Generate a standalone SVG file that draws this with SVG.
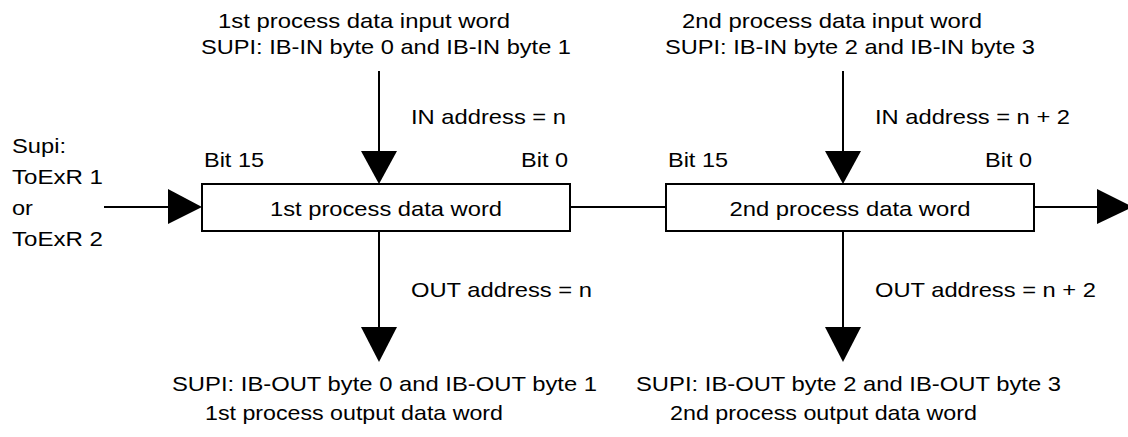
<svg xmlns="http://www.w3.org/2000/svg" width="1128" height="437" viewBox="0 0 1128 437">
<style>
text{font-family:"Liberation Sans",Arial,sans-serif;font-size:21px;fill:#000}
.ln{stroke:#000;stroke-width:2;fill:none}
.hd{fill:#000;stroke:none}
.box{fill:#fff;stroke:#000;stroke-width:2}
</style>
<rect width="1128" height="437" fill="#fff"/>
<g id="connectors">
<line class="ln" x1="104" y1="207" x2="170" y2="207"/>
<polygon class="hd" points="168,189 202,207 168,224"/>
<line class="ln" x1="570" y1="207" x2="666" y2="207"/>
<line class="ln" x1="1034" y1="207" x2="1100" y2="207"/>
<polygon class="hd" points="1097,189 1133,207 1097,224"/>
<line class="ln" x1="379" y1="71" x2="379" y2="153"/>
<polygon class="hd" points="361,151 397,151 379,184"/>
<line class="ln" x1="379" y1="231" x2="379" y2="329"/>
<polygon class="hd" points="361,327 397,327 379,362"/>
<line class="ln" x1="843" y1="71" x2="843" y2="153"/>
<polygon class="hd" points="825,151 861,151 843,184"/>
<line class="ln" x1="843" y1="231" x2="843" y2="329"/>
<polygon class="hd" points="825,327 861,327 843,362"/>
</g>
<g id="source">
<text x="12" y="153" textLength="54" lengthAdjust="spacingAndGlyphs">Supi:</text>
<text x="12" y="184" textLength="91" lengthAdjust="spacingAndGlyphs">ToExR 1</text>
<text x="12" y="215" textLength="21" lengthAdjust="spacingAndGlyphs">or</text>
<text x="12" y="246" textLength="91" lengthAdjust="spacingAndGlyphs">ToExR 2</text>
</g>
<g id="word1">
<rect class="box" x="202" y="184" width="368" height="47"/>
<text x="386" y="216" text-anchor="middle" textLength="232" lengthAdjust="spacingAndGlyphs">1st process data word</text>
<text x="204" y="167" textLength="60" lengthAdjust="spacingAndGlyphs">Bit 15</text>
<text x="521" y="167" textLength="47" lengthAdjust="spacingAndGlyphs">Bit 0</text>
</g>
<g id="word2">
<rect class="box" x="666" y="184" width="368" height="47"/>
<text x="850" y="216" text-anchor="middle" textLength="241" lengthAdjust="spacingAndGlyphs">2nd process data word</text>
<text x="668" y="167" textLength="60" lengthAdjust="spacingAndGlyphs">Bit 15</text>
<text x="985" y="167" textLength="47" lengthAdjust="spacingAndGlyphs">Bit 0</text>
</g>
<g id="input1">
<text x="218" y="28" textLength="292" lengthAdjust="spacingAndGlyphs">1st process data input word</text>
<text x="201" y="54" textLength="370" lengthAdjust="spacingAndGlyphs">SUPI: IB-IN byte 0 and IB-IN byte 1</text>
<text x="411" y="124" textLength="155" lengthAdjust="spacingAndGlyphs">IN address = n</text>
</g>
<g id="input2">
<text x="682" y="28" textLength="300" lengthAdjust="spacingAndGlyphs">2nd process data input word</text>
<text x="665" y="54" textLength="370" lengthAdjust="spacingAndGlyphs">SUPI: IB-IN byte 2 and IB-IN byte 3</text>
<text x="875" y="124" textLength="195" lengthAdjust="spacingAndGlyphs">IN address = n + 2</text>
</g>
<g id="output1">
<text x="411" y="297" textLength="181" lengthAdjust="spacingAndGlyphs">OUT address = n</text>
<text x="172" y="391" textLength="425" lengthAdjust="spacingAndGlyphs">SUPI: IB-OUT byte 0 and IB-OUT byte 1</text>
<text x="205" y="420" textLength="298" lengthAdjust="spacingAndGlyphs">1st process output data word</text>
</g>
<g id="output2">
<text x="875" y="297" textLength="221" lengthAdjust="spacingAndGlyphs">OUT address = n + 2</text>
<text x="636" y="391" textLength="425" lengthAdjust="spacingAndGlyphs">SUPI: IB-OUT byte 2 and IB-OUT byte 3</text>
<text x="670" y="420" textLength="307" lengthAdjust="spacingAndGlyphs">2nd process output data word</text>
</g>
</svg>
